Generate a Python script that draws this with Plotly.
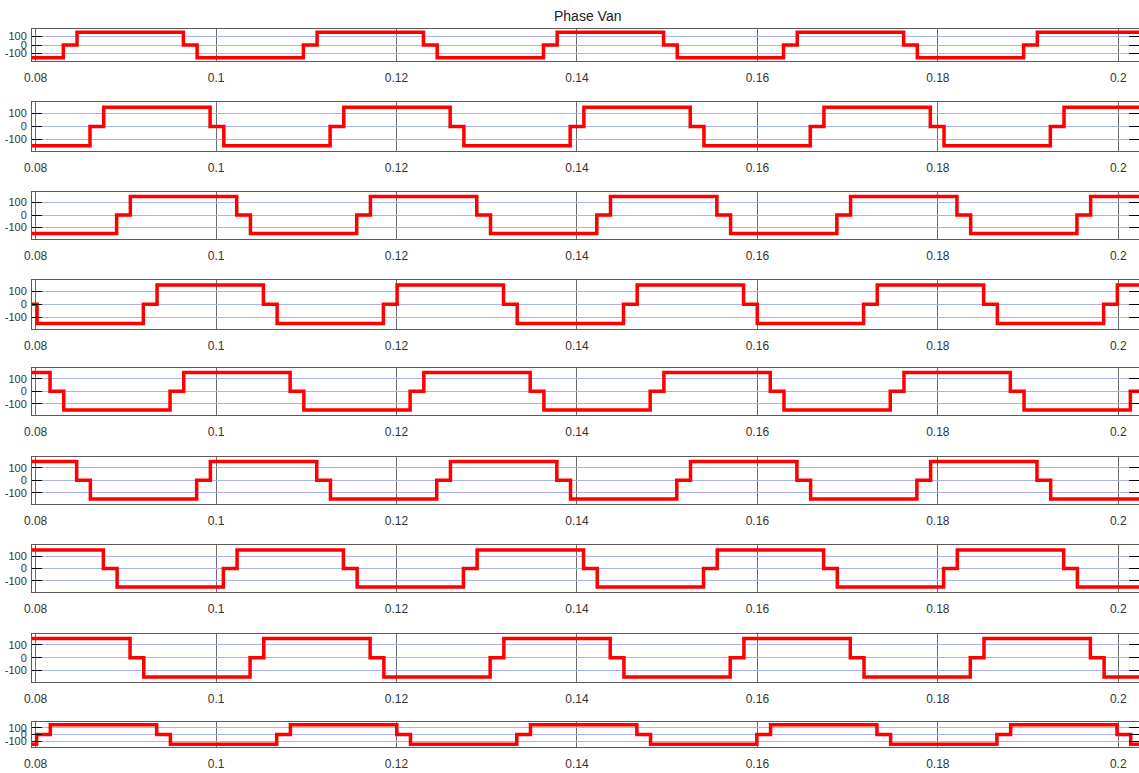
import plotly.graph_objects as go

# Time window shown on every axis (s) and the voltage span (V)
X_START, X_END = 0.0796, 0.2023
Y_RANGE = [-190, 190]

x_tick_vals = [0.08, 0.10, 0.12, 0.14, 0.16, 0.18, 0.20]
x_tick_text = ["0.08", "0.1", "0.12", "0.14", "0.16", "0.18", "0.2"]
y_tick_vals = [-100, 0, 100]
y_tick_text = ["-100", "0", "100"]

# Switching instants (s) of each phase voltage and the level held after each one.
# The first entry of every levels list is the level at the start of the window.
times_1 = [0.08307, 0.08459, 0.09638, 0.09790, 0.10968, 0.11120, 0.12299, 0.12451,
           0.13629, 0.13781, 0.14960, 0.15112, 0.16290, 0.16442, 0.17621, 0.17773,
           0.18951, 0.19103]
levels_1 = [-150, 0, 150, 0, -150, 0, 150, 0, -150, 0, 150, 0, -150, 0, 150, 0, -150, 0, 150]

times_2 = [0.08603, 0.08755, 0.09934, 0.10086, 0.11264, 0.11416, 0.12595, 0.12747,
           0.13925, 0.14077, 0.15256, 0.15408, 0.16586, 0.16738, 0.17917, 0.18069,
           0.19247, 0.19399]
levels_2 = [-150, 0, 150, 0, -150, 0, 150, 0, -150, 0, 150, 0, -150, 0, 150, 0, -150, 0, 150]

times_3 = [0.08898, 0.09050, 0.10229, 0.10381, 0.11559, 0.11711, 0.12890, 0.13042,
           0.14220, 0.14372, 0.15551, 0.15703, 0.16881, 0.17033, 0.18212, 0.18364,
           0.19542, 0.19694]
levels_3 = [-150, 0, 150, 0, -150, 0, 150, 0, -150, 0, 150, 0, -150, 0, 150, 0, -150, 0, 150]

times_4 = [0.08016, 0.09194, 0.09346, 0.10525, 0.10677, 0.11855, 0.12007, 0.13186,
           0.13338, 0.14516, 0.14668, 0.15847, 0.15999, 0.17177, 0.17329, 0.18508,
           0.18660, 0.19838, 0.19990]
levels_4 = [0, -150, 0, 150, 0, -150, 0, 150, 0, -150, 0, 150, 0, -150, 0, 150, 0, -150, 0, 150]

times_5 = [0.08160, 0.08312, 0.09490, 0.09642, 0.10821, 0.10973, 0.12151, 0.12303,
           0.13482, 0.13634, 0.14812, 0.14964, 0.16143, 0.16295, 0.17473, 0.17625,
           0.18804, 0.18956, 0.20134]
levels_5 = [150, 0, -150, 0, 150, 0, -150, 0, 150, 0, -150, 0, 150, 0, -150, 0, 150, 0, -150, 0]

times_6 = [0.08455, 0.08607, 0.09785, 0.09937, 0.11116, 0.11268, 0.12446, 0.12598,
           0.13777, 0.13929, 0.15107, 0.15259, 0.16438, 0.16590, 0.17768, 0.17920,
           0.19099, 0.19251]
levels_6 = [150, 0, -150, 0, 150, 0, -150, 0, 150, 0, -150, 0, 150, 0, -150, 0, 150, 0, -150]

times_7 = [0.08751, 0.08903, 0.10081, 0.10233, 0.11412, 0.11564, 0.12742, 0.12894,
           0.14073, 0.14225, 0.15403, 0.15555, 0.16734, 0.16886, 0.18064, 0.18216,
           0.19395, 0.19547]
levels_7 = [150, 0, -150, 0, 150, 0, -150, 0, 150, 0, -150, 0, 150, 0, -150, 0, 150, 0, -150]

times_8 = [0.09047, 0.09199, 0.10377, 0.10529, 0.11708, 0.11860, 0.13038, 0.13190,
           0.14369, 0.14521, 0.15699, 0.15851, 0.17030, 0.17182, 0.18360, 0.18512,
           0.19691, 0.19843]
levels_8 = [150, 0, -150, 0, 150, 0, -150, 0, 150, 0, -150, 0, 150, 0, -150, 0, 150, 0, -150]

times_9 = [0.08011, 0.08163, 0.09342, 0.09494, 0.10672, 0.10824, 0.12003, 0.12155,
           0.13333, 0.13485, 0.14664, 0.14816, 0.15994, 0.16146, 0.17325, 0.17477,
           0.18655, 0.18807, 0.19986, 0.20138]
levels_9 = [-150, 0, 150, 0, -150, 0, 150, 0, -150, 0, 150, 0, -150, 0, 150, 0, -150, 0, 150, 0, -150]

phases = [
    (times_1, levels_1), (times_2, levels_2), (times_3, levels_3),
    (times_4, levels_4), (times_5, levels_5), (times_6, levels_6),
    (times_7, levels_7), (times_8, levels_8), (times_9, levels_9),
]

# Page geometry (px)
W, H = 1139, 773
LEFT = 32
panel_top = [29, 102, 191.5, 280, 367.5, 456.5, 545, 633.5, 722]
panel_bottom = [61, 151, 238.5, 328.5, 415, 504, 592, 682, 747]

FONT = "Liberation Sans Narrow, Arial Narrow, Liberation Sans, Arial, sans-serif"

fig = go.Figure()
layout_axes = {}
for i, (times, levels) in enumerate(phases):
    sfx = "" if i == 0 else str(i + 1)
    xa, ya = "x" + sfx, "y" + sfx
    fig.add_trace(go.Scatter(
        x=[X_START] + times + [X_END],
        y=levels + [levels[-1]],
        mode="lines",
        line=dict(color="#ff0000", width=3.5, shape="hv"),
        xaxis=xa, yaxis=ya,
        hoverinfo="skip", showlegend=False,
    ))
    layout_axes["xaxis" + sfx] = dict(
        domain=[LEFT / W, 1], anchor=ya, range=[X_START, X_END],
        tickmode="array", tickvals=x_tick_vals, ticktext=x_tick_text,
        showgrid=True, gridcolor="#6e6e6e", gridwidth=1,
        showline=True, mirror=True, linecolor="#5a5a5a", linewidth=1,
        ticks="", zeroline=False, ticklabelstandoff=6, automargin=False,
        tickfont=dict(family=FONT, size=12, color="#333333"),
    )
    layout_axes["yaxis" + sfx] = dict(
        domain=[1 - panel_bottom[i] / H, 1 - panel_top[i] / H], anchor=xa,
        range=Y_RANGE, tickmode="array", tickvals=y_tick_vals, ticktext=y_tick_text,
        showgrid=True, gridcolor="#aab2f5", gridwidth=1,
        showline=True, mirror="allticks", linecolor="#5a5a5a", linewidth=1,
        ticks="inside", ticklen=10, tickwidth=1, tickcolor="#000000",
        zeroline=False, ticklabelstandoff=2, automargin=False,
        tickfont=dict(family=FONT, size=11, color="#333333"),
    )

fig.update_layout(
    width=W, height=H,
    margin=dict(l=0, r=0, t=0, b=0, autoexpand=False),
    paper_bgcolor="white", plot_bgcolor="white",
    showlegend=False,
    annotations=[dict(
        text="Phase Van", xref="paper", yref="paper",
        x=587 / W, y=1 - 16.5 / H, xanchor="center", yanchor="middle",
        showarrow=False, font=dict(family=FONT, size=14, color="#222222"),
    )],
    **layout_axes,
)

fig.write_html("out.html")
